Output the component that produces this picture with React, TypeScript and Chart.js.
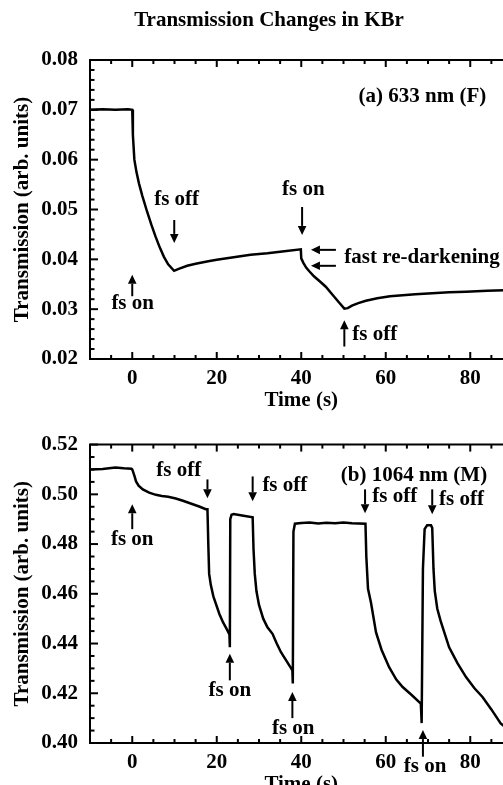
import React, { useEffect, useRef } from 'react';
import { Chart, registerables } from 'chart.js';

Chart.register(...registerables);

const FONT = '"Liberation Serif", "Times New Roman", Times, serif';

const TITLE = 'Transmission Changes in KBr';
const X_TITLE = 'Time (s)';
const Y_TITLE = 'Transmission (arb. units)';

const X_TICKS = [0, 20, 40, 60, 80];
const Y_TICKS_A = [0.02, 0.03, 0.04, 0.05, 0.06, 0.07, 0.08];
const Y_TICKS_B = [0.40, 0.42, 0.44, 0.46, 0.48, 0.50, 0.52];

// Panel (a) 633 nm (F)
const TIME_A = [
  -10, -7, -4, -1, 0, 0.15, 0.5, 1.0, 1.6, 2.4, 3.5, 4.5, 5.5, 6.5, 7.5, 8.5, 9.9,
  11, 13, 15, 18, 20, 24, 28, 32, 36, 39.9,
  40.0, 40.5, 41.2, 41.9, 43, 44.5, 45.8, 47.5, 49, 50.2,
  51, 52, 53.5, 55.3, 58, 61, 64, 67, 71, 75, 79, 84, 88, 92,
];
const TRANS_A = [
  0.0700, 0.0701, 0.0700, 0.0701, 0.0700, 0.0650, 0.0600, 0.0575, 0.0552, 0.0527, 0.0496, 0.0470, 0.0446, 0.0424, 0.0405, 0.0390, 0.0377,
  0.0381, 0.0387, 0.0391, 0.0396, 0.0399, 0.0404, 0.0409, 0.0412, 0.0416, 0.0420,
  0.0402, 0.0393, 0.0383, 0.0376, 0.0366, 0.0355, 0.0345, 0.0328, 0.0313, 0.0301,
  0.0302, 0.0307, 0.0312, 0.0317, 0.0322, 0.0326, 0.0328, 0.0330, 0.0332, 0.0334, 0.0335, 0.0337, 0.0338, 0.0338,
];

// Panel (b) 1064 nm (M)
const TIME_B = [
  -10, -7, -4, -2, -0.2, 0, 0.5, 0.9, 1.5, 2.5, 4, 5.6, 7, 8.5, 10.3, 12, 14, 16, 17.4, 17.8,
  18.0, 18.2, 18.6, 19.2, 20.6, 21.5, 22.3, 23.0, 23.1, 23.2, 23.5, 24, 26, 28.5,
  28.7, 29.0, 29.4, 30.0, 31, 32, 33.2, 34.2, 35.2, 36.5, 37.9, 38.0, 38.15, 38.5,
  40, 42, 44, 46, 48, 50, 52, 55.2,
  55.4, 55.8, 56.5, 57.7, 59, 60.8, 62.5, 64, 66, 68.3, 68.5,
  68.8, 69.2, 69.8, 70.7, 71.0, 71.3, 71.6, 72.2, 73, 75, 77, 79, 81, 82.9, 85, 87.2, 90, 93,
];
const TRANS_B = [
  0.5100, 0.5102, 0.5108, 0.5105, 0.5103, 0.5100, 0.5075, 0.5052, 0.5035, 0.5020, 0.5007, 0.4998, 0.4993, 0.4990, 0.4983, 0.4974, 0.4962, 0.4950, 0.4940, 0.4940,
  0.4800, 0.4680, 0.4635, 0.4590, 0.4520, 0.4485, 0.4460, 0.4437, 0.4385, 0.4900, 0.4918, 0.4921, 0.4915, 0.4908,
  0.4780, 0.4680, 0.4610, 0.4555, 0.4500, 0.4465, 0.4439, 0.4400, 0.4365, 0.4330, 0.4292, 0.4239, 0.4850, 0.4882,
  0.4885, 0.4887, 0.4883, 0.4886, 0.4884, 0.4887, 0.4884, 0.4882,
  0.4750, 0.4620, 0.4565, 0.4445, 0.4375, 0.4305, 0.4255, 0.4225, 0.4195, 0.4159, 0.4080,
  0.4700, 0.4860, 0.4876, 0.4876, 0.4865, 0.4700, 0.4612, 0.4540, 0.4490, 0.4385, 0.4320, 0.4265, 0.4220, 0.4185, 0.4135, 0.4079, 0.4040, 0.4010,
];

type Label = { text: string; x: number; y: number; align: CanvasTextAlign };
type VArrow = { x: number; from: number; to: number };
type HArrow = { y: number; from: number; to: number };

const LABELS_A: Label[] = [
  { text: '(a) 633 nm (F)', x: 83.8, y: 0.0726, align: 'right' },
  { text: 'fs off', x: 10.5, y: 0.0519, align: 'center' },
  { text: 'fs on', x: 0.1, y: 0.0311, align: 'center' },
  { text: 'fs on', x: 40.5, y: 0.0539, align: 'center' },
  { text: 'fast re-darkening', x: 50.2, y: 0.0403, align: 'left' },
  { text: 'fs off', x: 52.1, y: 0.0249, align: 'left' },
];
const VARROWS_A: VArrow[] = [
  { x: 9.94, from: 0.0479, to: 0.0433 },
  { x: 0, from: 0.0326, to: 0.0369 },
  { x: 40.2, from: 0.0505, to: 0.0449 },
  { x: 50.2, from: 0.0225, to: 0.0278 },
];
const HARROWS_A: HArrow[] = [
  { y: 0.0419, from: 48.2, to: 42.3 },
  { y: 0.0387, from: 48.2, to: 42.3 },
];

const LABELS_B: Label[] = [
  { text: '(b) 1064 nm (M)', x: 84.0, y: 0.5076, align: 'right' },
  { text: 'fs on', x: 0, y: 0.4818, align: 'center' },
  { text: 'fs off', x: 11, y: 0.5096, align: 'center' },
  { text: 'fs off', x: 30.8, y: 0.5034, align: 'left' },
  { text: 'fs off', x: 56.8, y: 0.4992, align: 'left' },
  { text: 'fs off', x: 72.6, y: 0.4978, align: 'left' },
  { text: 'fs on', x: 23.1, y: 0.4212, align: 'center' },
  { text: 'fs on', x: 38.1, y: 0.4060, align: 'center' },
  { text: 'fs on', x: 69.3, y: 0.3904, align: 'center' },
];
const VARROWS_B: VArrow[] = [
  { x: 0, from: 0.486, to: 0.496 },
  { x: 17.8, from: 0.506, to: 0.4984 },
  { x: 28.5, from: 0.5072, to: 0.4972 },
  { x: 55.1, from: 0.502, to: 0.4924 },
  { x: 71.0, from: 0.502, to: 0.492 },
  { x: 23.1, from: 0.4252, to: 0.4359 },
  { x: 37.9, from: 0.41, to: 0.4205 },
  { x: 68.8, from: 0.3945, to: 0.4052 },
];

type PanelCfg = {
  time: number[];
  values: number[];
  yMin: number;
  yMax: number;
  yTicks: number[];
  yMinor: number;
  yMajor: number;
  labels: Label[];
  varrows: VArrow[];
  harrows: HArrow[];
  showTitle: boolean;
  xScaleHeight: number;
  xTitlePadBottom: number;
  padTop: number;
};

function framePlugin(cfg: PanelCfg) {
  return {
    id: 'frameAndNotes',
    afterDatasetsDraw(chart: any) {
      const { ctx, chartArea: a, scales } = chart;
      const xs = scales.x;
      const ys = scales.y;
      ctx.save();
      ctx.strokeStyle = '#000';
      ctx.fillStyle = '#000';
      ctx.lineWidth = 2;
      const line = (x1: number, y1: number, x2: number, y2: number) => {
        ctx.beginPath();
        ctx.moveTo(x1, y1);
        ctx.lineTo(x2, y2);
        ctx.stroke();
      };
      // figure title, centred on the canvas
      if (cfg.showTitle) {
        ctx.font = `bold 21px ${FONT}`;
        ctx.textAlign = 'center';
        ctx.textBaseline = 'middle';
        ctx.fillText(TITLE, chart.width / 2, 20.5);
      }
      // top frame
      line(a.left - 1, a.top, a.right, a.top);
      // x ticks (inward, bottom and top)
      const xMinor = 5;
      const xMajor = 20;
      const nx = Math.round((xs.max - xs.min) / xMinor);
      for (let i = 0; i <= nx; i++) {
        const v = xs.min + i * xMinor;
        const px = xs.getPixelForValue(v);
        const r = v / xMajor;
        const major = Math.abs(r - Math.round(r)) < 1e-6;
        const L = major ? 7 : 4;
        line(px, a.bottom, px, a.bottom - L);
        line(px, a.top, px, a.top + L);
      }
      // y ticks (inward, left)
      const ny = Math.round((ys.max - ys.min) / cfg.yMinor);
      for (let i = 0; i <= ny; i++) {
        const v = ys.min + i * cfg.yMinor;
        const py = ys.getPixelForValue(v);
        const r = v / cfg.yMajor;
        const major = Math.abs(r - Math.round(r)) < 1e-6;
        const L = major ? 8 : 4.5;
        line(a.left, py, a.left + L, py);
      }
      // arrows
      const head = 9;
      const hw = 4.3;
      for (const ar of cfg.varrows) {
        const px = xs.getPixelForValue(ar.x);
        const p1 = ys.getPixelForValue(ar.from);
        const p2 = ys.getPixelForValue(ar.to);
        const dir = p2 > p1 ? 1 : -1;
        line(px, p1, px, p2 - dir * head);
        ctx.beginPath();
        ctx.moveTo(px, p2);
        ctx.lineTo(px - hw, p2 - dir * head);
        ctx.lineTo(px + hw, p2 - dir * head);
        ctx.closePath();
        ctx.fill();
      }
      for (const ar of cfg.harrows) {
        const py = ys.getPixelForValue(ar.y);
        const p1 = xs.getPixelForValue(ar.from);
        const p2 = xs.getPixelForValue(ar.to);
        const dir = p2 > p1 ? 1 : -1;
        line(p1, py, p2 - dir * head, py);
        ctx.beginPath();
        ctx.moveTo(p2, py);
        ctx.lineTo(p2 - dir * head, py - hw);
        ctx.lineTo(p2 - dir * head, py + hw);
        ctx.closePath();
        ctx.fill();
      }
      // labels
      ctx.font = `bold 21px ${FONT}`;
      ctx.textBaseline = 'middle';
      for (const lb of cfg.labels) {
        ctx.textAlign = lb.align;
        ctx.fillText(lb.text, xs.getPixelForValue(lb.x), ys.getPixelForValue(lb.y));
      }
      ctx.restore();
    },
  };
}

function buildChart(canvas: HTMLCanvasElement, cfg: PanelCfg) {
  const data = cfg.time.map((t, i) => ({ x: t, y: cfg.values[i] }));
  const tickFont = { family: FONT, size: 21, weight: 'bold' as const };
  return new Chart(canvas, {
    type: 'line',
    data: {
      datasets: [
        {
          data,
          borderColor: '#000',
          borderWidth: 2.5,
          pointRadius: 0,
          tension: 0,
          fill: false,
        },
      ],
    },
    options: {
      responsive: false,
      animation: false,
      devicePixelRatio: 1,
      layout: { padding: { left: 0, right: 25.5, top: cfg.padTop, bottom: 0 } },
      plugins: {
        legend: { display: false },
        tooltip: { enabled: false },
        title: { display: false },
      },
      scales: {
        x: {
          type: 'linear',
          min: -10,
          max: 90,
          grid: { display: false, drawTicks: false },
          border: { display: true, width: 2, color: '#000' },
          ticks: {
            color: '#000',
            font: tickFont,
            padding: 7,
            maxRotation: 0,
          },
          afterBuildTicks: (s: any) => {
            s.ticks = X_TICKS.map((v) => ({ value: v }));
          },
          afterFit: (s: any) => {
            s.height = cfg.xScaleHeight;
          },
          title: {
            display: true,
            text: X_TITLE,
            color: '#000',
            font: { family: FONT, size: 21, weight: 'bold' },
            padding: { top: 0, bottom: cfg.xTitlePadBottom },
          },
        },
        y: {
          type: 'linear',
          min: cfg.yMin,
          max: cfg.yMax,
          grid: { display: false, drawTicks: false },
          border: { display: true, width: 2, color: '#000' },
          ticks: {
            color: '#000',
            font: tickFont,
            padding: 12,
            callback: (v: any) => Number(v).toFixed(2),
          },
          afterBuildTicks: (s: any) => {
            s.ticks = cfg.yTicks.map((v) => ({ value: v }));
          },
          afterFit: (s: any) => {
            s.width = 90;
          },
          title: {
            display: true,
            text: Y_TITLE,
            color: '#000',
            font: { family: FONT, size: 21, weight: 'bold' },
            padding: { top: 9.9, bottom: 0 },
          },
        },
      },
    },
    plugins: [framePlugin(cfg)],
  });
}

export default function App() {
  const refA = useRef<HTMLCanvasElement>(null);
  const refB = useRef<HTMLCanvasElement>(null);

  useEffect(() => {
    document.body.style.margin = '0';
    const a = buildChart(refA.current!, {
      time: TIME_A,
      values: TRANS_A,
      yMin: 0.02,
      yMax: 0.08,
      yTicks: Y_TICKS_A,
      yMinor: 0.002,
      yMajor: 0.01,
      labels: LABELS_A,
      varrows: VARROWS_A,
      harrows: HARROWS_A,
      showTitle: true,
      xScaleHeight: 61,
      xTitlePadBottom: 6.4,
      padTop: 60,
    });
    const b = buildChart(refB.current!, {
      time: TIME_B,
      values: TRANS_B,
      yMin: 0.4,
      yMax: 0.52,
      yTicks: Y_TICKS_B,
      yMinor: 0.005,
      yMajor: 0.02,
      labels: LABELS_B,
      varrows: VARROWS_B,
      harrows: [],
      showTitle: false,
      xScaleHeight: 67,
      xTitlePadBottom: 12.4,
      padTop: 23,
    });
    return () => {
      a.destroy();
      b.destroy();
    };
  }, []);

  return (
    <div
      style={{
        position: 'fixed',
        left: 0,
        top: 0,
        width: 503,
        height: 785,
        overflow: 'hidden',
        background: '#fff',
      }}
    >
      <canvas ref={refA} width={538} height={420} style={{ position: 'absolute', left: 0, top: 0 }} />
      <canvas ref={refB} width={538} height={390} style={{ position: 'absolute', left: 0, top: 420 }} />
    </div>
  );
}
